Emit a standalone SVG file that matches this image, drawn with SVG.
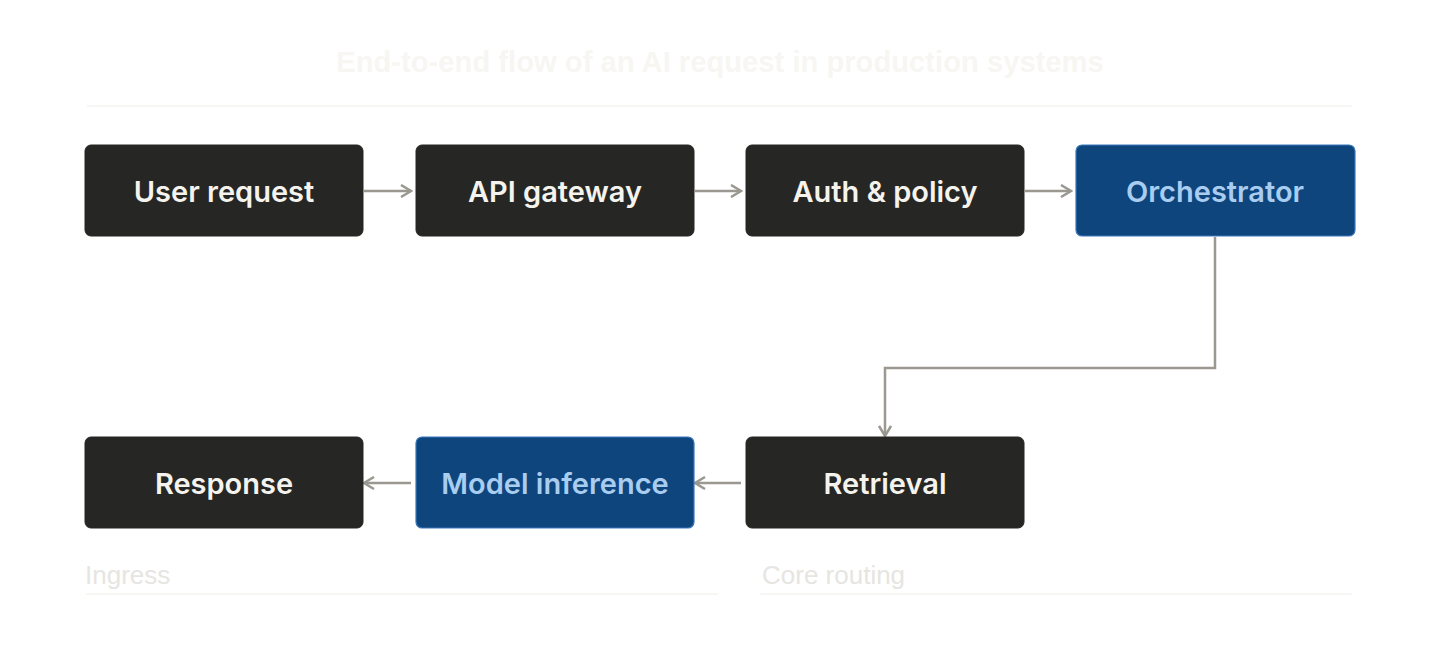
<svg xmlns="http://www.w3.org/2000/svg" width="1440" height="652" viewBox="0 0 1440 652">
<style>
.bg{fill:#ffffff}
.title{font-family:"Liberation Sans",Arial,sans-serif;font-weight:700;font-size:29.2px;fill:#f7f6f2}
.rule{stroke:#f4f3ef;stroke-width:1.5}
.lane{font-family:"Liberation Sans",Arial,sans-serif;font-size:26px;fill:#e6e5e1}
.dark rect{fill:#262624;stroke:#262624;stroke-width:1}
.dark text{fill:#f5f3ee}
.blue rect{fill:#0e457c;stroke:#3a78bd;stroke-width:1.2}
.blue text{fill:#a9cdf0}
.node text{font-family:Inter,"Liberation Sans",sans-serif;font-weight:600;font-size:29px;text-anchor:middle;dominant-baseline:central}
.conn{fill:none;stroke:#9a9890;stroke-width:2.5}
</style>
<defs>
<marker id="arr" viewBox="0 0 14 14" refX="12" refY="7" markerWidth="14" markerHeight="14" markerUnits="userSpaceOnUse" orient="auto">
<path d="M2 1 L12 7 L2 13" fill="none" stroke="#9a9890" stroke-width="2.5"/>
</marker>
</defs>
<rect class="bg" width="1440" height="652"/>
<text class="title" x="720" y="72" text-anchor="middle">End-to-end flow of an AI request in production systems</text>
<line class="rule" x1="87" y1="106" x2="1352" y2="106"/>
<g id="connectors">
<line class="conn" x1="364" y1="191" x2="411" y2="191" marker-end="url(#arr)"/>
<line class="conn" x1="695" y1="191" x2="741" y2="191" marker-end="url(#arr)"/>
<line class="conn" x1="1025" y1="191" x2="1071" y2="191" marker-end="url(#arr)"/>
<polyline class="conn" points="1215,237 1215,368 885,368 885,436" marker-end="url(#arr)"/>
<line class="conn" x1="741" y1="483" x2="695" y2="483" marker-end="url(#arr)"/>
<line class="conn" x1="411" y1="483" x2="364" y2="483" marker-end="url(#arr)"/>
</g>
<g id="n-user" class="node dark"><rect x="85" y="145" width="278" height="91" rx="6"/><text x="224" y="191">User request</text></g>
<g id="n-api" class="node dark"><rect x="416" y="145" width="278" height="91" rx="6"/><text x="555" y="191">API gateway</text></g>
<g id="n-auth" class="node dark"><rect x="746" y="145" width="278" height="91" rx="6"/><text x="885" y="191">Auth &amp; policy</text></g>
<g id="n-orch" class="node blue"><rect x="1076" y="145" width="279" height="91" rx="6"/><text x="1215" y="191">Orchestrator</text></g>
<g id="n-resp" class="node dark"><rect x="85" y="437" width="278" height="91" rx="6"/><text x="224" y="483">Response</text></g>
<g id="n-model" class="node blue"><rect x="416" y="437" width="278" height="91" rx="6"/><text x="555" y="483">Model inference</text></g>
<g id="n-retr" class="node dark"><rect x="746" y="437" width="278" height="91" rx="6"/><text x="885" y="483">Retrieval</text></g>
<g id="lane-ingress"><text class="lane" x="85" y="584">Ingress</text><line class="rule" x1="86" y1="594" x2="718" y2="594"/></g>
<g id="lane-core"><text class="lane" x="762" y="584">Core routing</text><line class="rule" x1="760" y1="594" x2="1352" y2="594"/></g>
</svg>
